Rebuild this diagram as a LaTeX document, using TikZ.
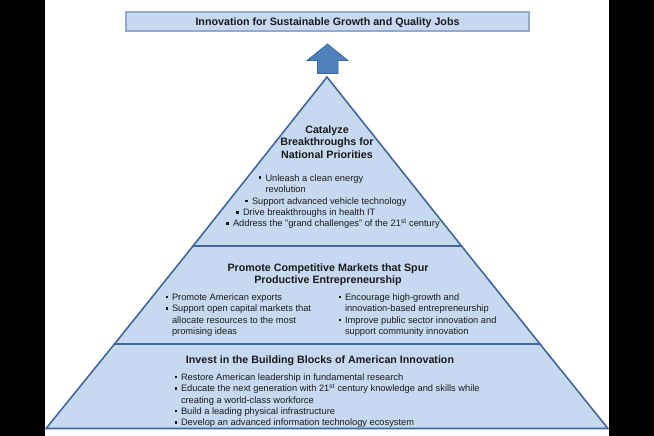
\documentclass[tikz,border=0pt]{standalone}
\usepackage{fontspec}
\setmainfont{Liberation Sans}
\definecolor{tierfill}{HTML}{C6D9F1}
\definecolor{tierline}{HTML}{41689C}
\definecolor{boxline}{HTML}{95AACB}
\definecolor{arrowfill}{HTML}{4F81BD}
\definecolor{arrowline}{HTML}{3C6A9E}
\definecolor{ink}{HTML}{1A1A1A}
\newcommand\sqbul{\raisebox{2.1pt}{\rule{2.5pt}{2.5pt}}}
\newcommand\bodyfont{\fontsize{9.3}{11.3}\selectfont}
\newcommand\headfont{\fontsize{10.7}{12.8}\selectfont\bfseries}
\begin{document}
\begin{tikzpicture}[x=1pt,y=-1pt,
  tier/.style={fill=tierfill,draw=tierline,line width=1.6pt,line join=miter},
  body/.style={inner sep=0pt,anchor=base west,text=ink,font=\bodyfont},
  head/.style={inner sep=0pt,anchor=base,text=ink,font=\headfont},
  goalbox/.style={fill=tierfill,draw=boxline,line width=1.5pt,inner sep=0pt,
     minimum width=403pt,minimum height=19pt,text=ink}]
\useasboundingbox (0,0) rectangle (654,436);
\fill[white] (0,0) rectangle (654,436);
\fill[black] (0,0) rectangle (45,436);
\fill[black] (609,0) rectangle (654,436);

% goal box
\node[goalbox] (goal) at (327.5,21.5) {};
\node[head] (goaltext) at (327.5,25.5) {Innovation for Sustainable Growth and Quality Jobs};

% block arrow
\filldraw[fill=arrowfill,draw=arrowline,line width=0.8pt]
  (327.5,44) -- (348,60.5) -- (338,60.5) -- (338,73.5) -- (317.5,73.5) -- (317.5,60.5) -- (307,60.5) -- cycle;

% pyramid tiers
\coordinate (apex) at (327,77);
\coordinate (l1) at (193,246);
\coordinate (r1) at (461.5,246);
\coordinate (l2) at (114.5,344);
\coordinate (r2) at (540,344);
\coordinate (bl) at (46,428.5);
\coordinate (br) at (608,428.5);
\draw[tier] (bl) -- (l2) -- (r2) -- (br) -- cycle;
\draw[tier] (l2) -- (l1) -- (r1) -- (r2) -- cycle;
\draw[tier] (l1) -- (apex) -- (r1) -- cycle;

% top tier
\node[head] (toptitle) at (327,133) {\begin{tabular}[t]{@{}c@{}}Catalyze\\Breakthroughs for\\National Priorities\end{tabular}};
\node[body] (topa) at (258.5,181) {\begin{tabular}[t]{@{}l@{\hspace{4.3pt}}l@{}}\sqbul & Unleash a clean energy\\ & revolution\end{tabular}};
\node[body] (topb) at (245,204.3) {\begin{tabular}[t]{@{}l@{\hspace{4.3pt}}l@{}}\sqbul & Support advanced vehicle technology\end{tabular}};
\node[body] (topc) at (236,215.6) {\begin{tabular}[t]{@{}l@{\hspace{4.3pt}}l@{}}\sqbul & Drive breakthroughs in health IT\end{tabular}};
\node[body] (topd) at (226,226.9) {\begin{tabular}[t]{@{}l@{\hspace{4.3pt}}l@{}}\sqbul & Address the "grand challenges" of the 21\textsuperscript{st} century\end{tabular}};

% middle tier
\node[head] (midtitle) at (328,271) {\begin{tabular}[t]{@{}c@{}}Promote Competitive Markets that Spur\\Productive Entrepreneurship\end{tabular}};
\node[body] (midl) at (165.5,300.5) {\begin{tabular}[t]{@{}l@{\hspace{3.8pt}}l@{}}\sqbul & Promote American exports\\
  \sqbul & Support open capital markets that\\ & allocate resources to the most\\ & promising ideas\end{tabular}};
\node[body] (midr) at (338.5,300.5) {\begin{tabular}[t]{@{}l@{\hspace{3.8pt}}l@{}}\sqbul & Encourage high-growth and\\
  & innovation-based entrepreneurship\\ \sqbul & Improve public sector innovation and\\ & support community innovation\end{tabular}};

% bottom tier
\node[head] (bottitle) at (320,363) {Invest in the Building Blocks of American Innovation};
\node[body] (botl) at (174.5,380.5) {\begin{tabular}[t]{@{}l@{\hspace{3.8pt}}l@{}}\sqbul & Restore American leadership in fundamental research\\
  \sqbul & Educate the next generation with 21\textsuperscript{st} century knowledge and skills while\\
  & creating a world-class workforce\\
  \sqbul & Build a leading physical infrastructure\\
  \sqbul & Develop an advanced information technology ecosystem\end{tabular}};
\end{tikzpicture}
\end{document}
